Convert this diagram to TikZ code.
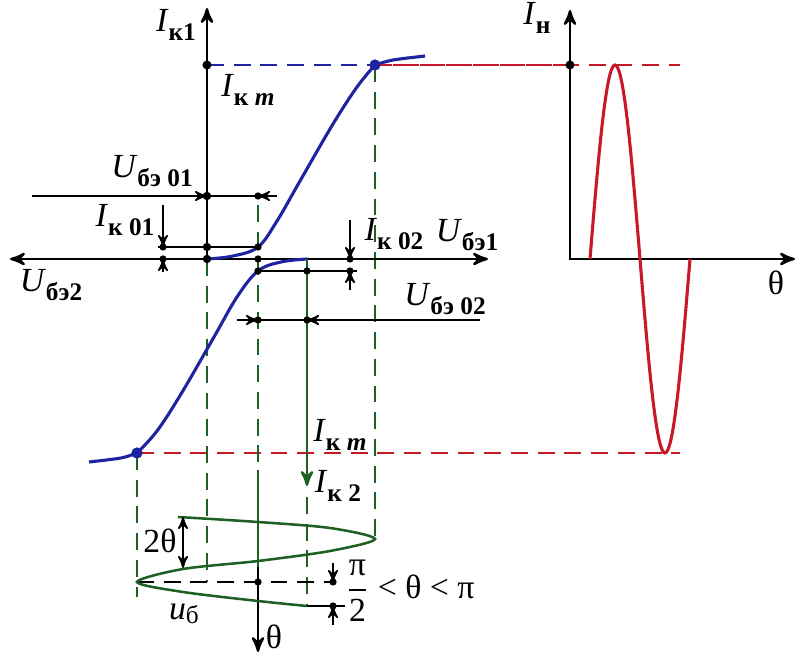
\documentclass[tikz,border=0pt]{standalone}
\usepackage{amsmath}
\usepackage{fontspec}
\setmainfont{Liberation Serif}
\usetikzlibrary{arrows}
\definecolor{charblue}{RGB}{30,35,160}
\definecolor{guidegreen}{RGB}{30,95,35}
\definecolor{loadred}{RGB}{200,25,40}
\newcommand{\ind}[2]{\textit{#1}\raisebox{-0.55ex}{\small\bfseries #2}}
\tikzset{x=0.0125cm, y=-0.0125cm, % one unit is one pixel of the sketch
axis/.style={ % axes of both graphs
line width=0.9pt, >=stealth'},
dim/.style={ % dimension lines and arrows
line width=0.6pt, >=stealth'},
char/.style={ % transfer characteristics
charblue, line width=1.1pt},
load/.style={ % load current
loadred, line width=1.1pt},
sig/.style={ % input signal and its projections
guidegreen, line width=0.9pt, >=stealth'},
guide/.style={ % dashed projections
line width=0.8pt, dash pattern=on 6pt off 3.5pt},
lbl/.style={inner sep=1pt, font=\large}}

\begin{document}
\begin{tikzpicture}
    \useasboundingbox (0,0) rectangle (800,657);

    % key points
    \coordinate (o) at (207,259);
    \coordinate (ytop) at (207,8);
    \coordinate (xl) at (10,259);
    \coordinate (xr) at (488,259);
    \coordinate (km) at (207,65);
    \coordinate (sat1) at (375,65);
    \coordinate (sat2) at (137,453);
    \coordinate (q1) at (258,247);
    \coordinate (q2) at (258,271);
    \coordinate (q3) at (307,259);
    \coordinate (tipr) at (375,539);
    \coordinate (tipl) at (137,582);
    \coordinate (o2) at (570,259);
    \coordinate (ntop) at (570,10);
    \coordinate (nr) at (795,259);
    \coordinate (nm) at (570,65);

    % dashed levels
    \draw[guide, charblue] (km) -- (sat1);
    \draw[guide, loadred] (sat1) -- (680,65);
    \draw[guide, loadred] (sat2) -- (680,453);
    \draw[guide, guidegreen] (sat1) -- (tipr);
    \draw[guide, guidegreen] (o) -- (207,582);
    \draw[guide, guidegreen] (258,205) -- (258,470);
    \draw[guide, guidegreen] (sat2) -- (137,597);
    \draw[guide, guidegreen] (307,497) -- (307,606);
    \draw[guide] (tipl) -- (333,582);

    % axes
    \draw[axis, <->] (xl) -- (xr);
    \draw[axis, ->] (o) -- (ytop);
    \draw[axis, <->] (ntop) -- (o2) -- (nr);
    \draw[axis, ->] (258,567) -- (258,652);

    % characteristics
    \draw[char] plot[smooth, tension=0.6] coordinates {(o) (233,256) (q1) (277,221) (300,181) (333,124) (357,87) (sat1)};
    \draw[char] plot[smooth] coordinates {(sat1) (393,60) (425,56)};
    \draw[char] plot[smooth, tension=0.6] coordinates {(q3) (281,262) (q2) (237,297) (214,337) (181,394) (157,431) (sat2)};
    \draw[char] plot[smooth] coordinates {(sat2) (121,458) (89,462)};

    % input signal
    \draw[sig] plot[smooth, tension=0.5] coordinates {(178,517) (258,522) (330,528) (tipr) (330,551) (258,561) (183,569) (tipl) (183,592) (258,601) (307,606)};
    \draw[sig, ->] (q3) -- (307,486);
    \draw[sig] (258,470) -- (258,567);

    % load current
    \draw[load] plot[domain=590:690, samples=80, smooth] (\x,{259-194*sin(3.6*(\x-590))});
    \draw[guide, loadred] (nm) -- (sat1);

    % bias levels and dimensions
    \draw[dim] (158,247) -- (q1);
    \draw[dim] (q2) -- (357,271);
    \draw[dim, ->] (32,196) -- (207,196);
    \draw[dim] (207,196) -- (258,196);
    \draw[dim, ->] (277,196) -- (258,196);
    \draw[dim, ->] (163,205) -- (163,247);
    \draw[dim, ->] (163,272) -- (163,259);
    \draw[dim, ->] (350,220) -- (350,259);
    \draw[dim, ->] (350,290) -- (350,271);
    \draw[dim, ->] (237,320) -- (258,320);
    \draw[dim] (258,320) -- (307,320);
    \draw[dim, ->] (480,320) -- (307,320);
    \draw[dim, <->] (183,517) -- (183,568);
    \draw[dim] (307,606) -- (345,606);
    \draw[dim, ->] (333,563) -- (333,582);
    \draw[dim, ->] (333,625) -- (333,606);

    % points
    \fill (km) circle (1.6pt);
    \fill (nm) circle (1.6pt);
    \fill[charblue] (sat1) circle (2pt);
    \fill[charblue] (sat2) circle (2pt);
    \fill (o) circle (1.5pt);
    \fill (207,196) circle (1.5pt);
    \fill (207,247) circle (1.5pt);
    \fill (163,247) circle (1.3pt);
    \fill (163,259) circle (1.3pt);
    \fill (258,196) circle (1.3pt);
    \fill (q1) circle (1.3pt);
    \fill (258,259) circle (1.3pt);
    \fill (q2) circle (1.3pt);
    \fill (307,271) circle (1.3pt);
    \fill (350,259) circle (1.3pt);
    \fill (350,271) circle (1.3pt);
    \fill (258,320) circle (1.3pt);
    \fill (307,320) circle (1.3pt);
    \fill (258,582) circle (1.3pt);
    \fill (333,582) circle (1.3pt);
    \fill (333,606) circle (1.3pt);

    % labels
    \node[lbl] (ik1) at (176,25) {\ind{I}{к1}};
    \node[lbl] (ikm1) at (248,90) {\ind{I}{к \textit{m}}};
    \node[lbl] (ube01) at (152,171) {\ind{U}{бэ 01}};
    \node[lbl] (ik01) at (125,220) {\ind{I}{к 01}};
    \node[lbl] (ube2) at (51,285) {\ind{U}{бэ2}};
    \node[lbl] (ik02) at (394,234) {\ind{I}{к 02}};
    \node[lbl] (ube1) at (467,235) {\ind{U}{бэ1}};
    \node[lbl] (ube02) at (445,299) {\ind{U}{бэ 02}};
    \node[lbl] (ikm2) at (340,435) {\ind{I}{к \textit{m}}};
    \node[lbl] (ik2) at (338,486) {\ind{I}{к 2}};
    \node[lbl] (tt) at (160,541) {2θ};
    \node[lbl] (range) at (410,591) {$\dfrac{\text{π}}{\text{2}}$ < θ < π};
    \node[lbl] (ub) at (184,614) {\textit{u}\raisebox{-0.3ex}{\small б}};
    \node[lbl] (th1) at (274,637) {θ};
    \node[lbl] (in) at (537,18) {\ind{I}{н}};
    \node[lbl] (th2) at (776,283) {θ};

\end{tikzpicture}
\end{document}
